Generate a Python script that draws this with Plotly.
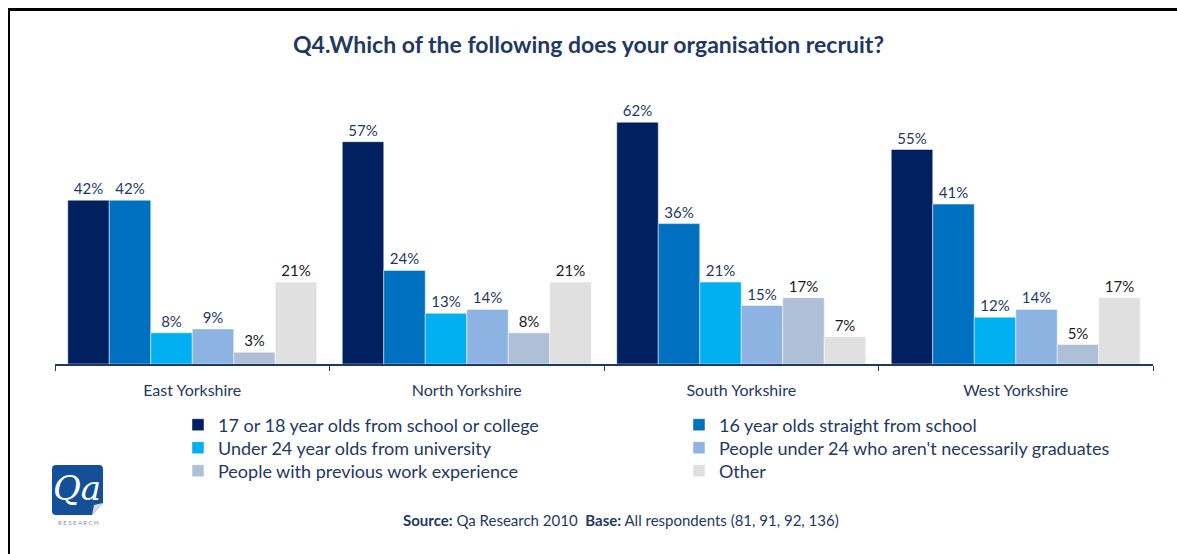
import plotly.graph_objects as go

# --- data -------------------------------------------------------------
regions = ["East Yorkshire", "North Yorkshire", "South Yorkshire", "West Yorkshire"]

series_names = [
    "17 or 18 year olds from school or college",
    "16 year olds straight from school",
    "Under 24 year olds from university",
    "People under 24 who aren't necessarily graduates",
    "People with previous work experience",
    "Other",
]

school_or_college_17_18 = [42, 57, 62, 55]
straight_from_school_16 = [42, 24, 36, 41]
under_24_university = [8, 13, 21, 12]
under_24_non_graduates = [9, 14, 15, 14]
previous_work_experience = [3, 8, 17, 5]
other = [21, 21, 7, 17]

series_values = [
    school_or_college_17_18,
    straight_from_school_16,
    under_24_university,
    under_24_non_graduates,
    previous_work_experience,
    other,
]

# --- styling ----------------------------------------------------------
W, H = 1177, 554
M_L, M_R, M_T, M_B = 55, 24, 91, 190
Y_MAX = 70

colors = ["#002060", "#0070C0", "#00B0F0", "#8DB3E2", "#AFC0D6", "#E0E0E0"]
label_colors = ["#1F3864", "#1F3864", "#1F3864", "#1F3864", "#1a1a1a", "#1a1a1a"]
NAVY = "#1F3864"
FONT = "Lato"

plot_w = W - M_L - M_R
plot_h = H - M_T - M_B


def px_x(px):
    """Pixel x -> paper x."""
    return (px - M_L) / plot_w


def px_y(py):
    """Pixel y (from top) -> paper y."""
    return (H - M_B - py) / plot_h


# legend grid: two columns, three rows (one legend box per entry)
legend_cols_px = [178, 679]
legend_rows_px = [425, 448, 471]

fig = go.Figure()

legend_layouts = {}
for i, (name, vals, col, lcol) in enumerate(zip(series_names, series_values, colors, label_colors)):
    legend_id = "legend" if i == 0 else f"legend{i + 1}"
    fig.add_trace(
        go.Bar(
            name=name,
            x=regions,
            y=vals,
            marker=dict(color=col, line=dict(color="rgba(255,255,255,0.6)", width=0.8)),
            text=[f"{v}%" for v in vals],
            textposition="outside",
            textfont=dict(family=FONT, size=15, color=lcol),
            cliponaxis=False,
            hoverinfo="skip",
            legend=legend_id,
        )
    )
    legend_layouts[legend_id] = dict(
        x=px_x(legend_cols_px[i % 2]), xanchor="left",
        y=px_y(legend_rows_px[i // 2]), yanchor="middle",
        itemwidth=30,
        font=dict(family=FONT, size=18, color=NAVY),
        bgcolor="rgba(0,0,0,0)",
        borderwidth=0,
    )

shapes = [
    # outer frame (top and left rules)
    dict(type="line", xref="paper", yref="paper",
         x0=px_x(8), x1=px_x(W + 5), y0=px_y(9.5), y1=px_y(9.5),
         line=dict(color="black", width=3)),
    dict(type="line", xref="paper", yref="paper",
         x0=px_x(9), x1=px_x(9), y0=px_y(8), y1=px_y(H + 5),
         line=dict(color="black", width=2)),
    # logo tile
    dict(type="path", xref="paper", yref="paper",
         path=(
             f"M {px_x(56)},{px_y(465)} L {px_x(99)},{px_y(465)} "
             f"Q {px_x(103)},{px_y(465)} {px_x(103)},{px_y(469)} "
             f"L {px_x(103)},{px_y(503)} L {px_x(92)},{px_y(515)} "
             f"L {px_x(56)},{px_y(515)} "
             f"Q {px_x(52)},{px_y(515)} {px_x(52)},{px_y(511)} "
             f"L {px_x(52)},{px_y(469)} "
             f"Q {px_x(52)},{px_y(465)} {px_x(56)},{px_y(465)} Z"
         ),
         fillcolor="#144F9A", line=dict(width=0)),
    # page curl on logo
    dict(type="path", xref="paper", yref="paper",
         path=f"M {px_x(103)},{px_y(503)} L {px_x(92)},{px_y(515)} L {px_x(94)},{px_y(505)} Z",
         fillcolor="#D9D9D9", line=dict(width=0)),
]

annotations = [
    dict(text="Qa", xref="paper", yref="paper", x=px_x(77), y=px_y(488),
         xanchor="center", yanchor="middle", showarrow=False,
         font=dict(family="DejaVu Serif", size=34, color="white", style="italic")),
    dict(text="R E S E A R C H", xref="paper", yref="paper", x=px_x(78), y=px_y(522),
         xanchor="center", yanchor="middle", showarrow=False,
         font=dict(family=FONT, size=6, color="#8C8C8C")),
    dict(text="<b>Source:</b> Qa Research 2010  <b>Base:</b> All respondents (81, 91, 92, 136)",
         xref="paper", yref="paper", x=px_x(621), y=px_y(520),
         xanchor="center", yanchor="middle", showarrow=False,
         font=dict(family=FONT, size=15, color=NAVY)),
]

fig.update_layout(
    width=W,
    height=H,
    autosize=False,
    margin=dict(l=M_L, r=M_R, t=M_T, b=M_B, pad=0),
    paper_bgcolor="white",
    plot_bgcolor="white",
    barmode="group",
    bargap=0.093,
    bargroupgap=0,
    title=dict(
        text="<b>Q4.Which of the following does your organisation recruit?</b>",
        x=0.5, xanchor="center", xref="container",
        y=1 - 45 / H, yanchor="middle", yref="container",
        font=dict(family=FONT, size=23, color=NAVY),
    ),
    xaxis=dict(
        showline=True, linecolor=NAVY, linewidth=2,
        ticks="outside", tickson="boundaries", ticklen=5, tickcolor=NAVY, tickwidth=1,
        tickfont=dict(family=FONT, size=16, color=NAVY),
        ticklabelstandoff=11,
        showgrid=False, zeroline=False, fixedrange=True,
    ),
    yaxis=dict(
        range=[0, Y_MAX], visible=False, showgrid=False, zeroline=False, fixedrange=True,
    ),
    shapes=shapes,
    annotations=annotations,
    showlegend=True,
    **legend_layouts,
)

fig.write_html("out.html")
